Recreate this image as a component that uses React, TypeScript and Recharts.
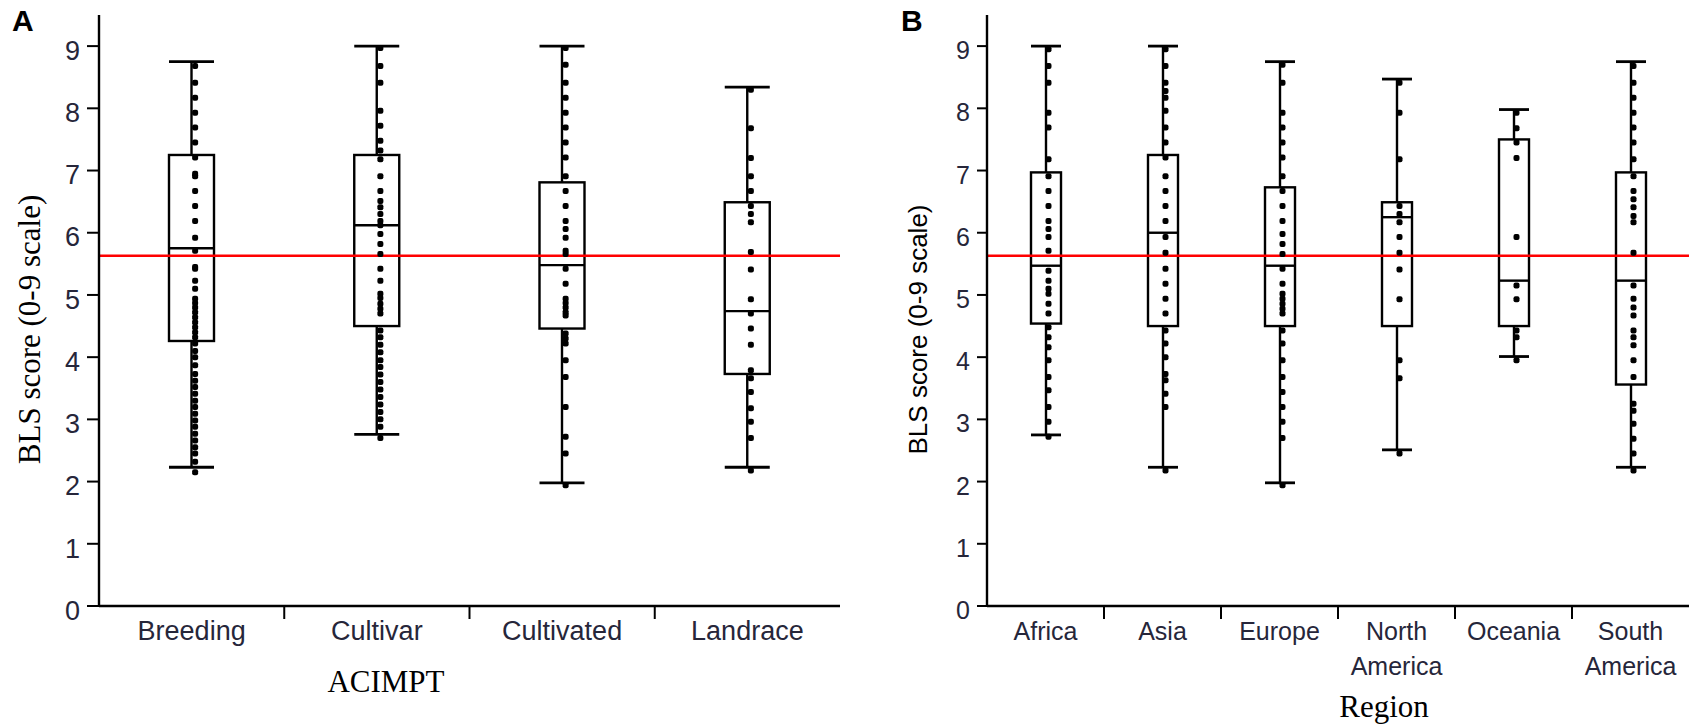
import React from "react"
import { ComposedChart, Bar, Scatter, XAxis, YAxis, ReferenceLine, Label } from "recharts"

const SANS = "'Liberation Sans', Arial, sans-serif"
const SERIF = "'Liberation Serif', 'Times New Roman', serif"
const TEXT = "#26263a"

// overall mean BLS score (red line)
const overallMean = 5.63
const yTicks = [0, 1, 2, 3, 4, 5, 6, 7, 8, 9]

// panel A: accession type (ACIMPT)
const typeNames = ["Breeding", "Cultivar", "Cultivated", "Landrace"]
const typeMin = [2.23, 2.76, 1.98, 2.23]
const typeQ1 = [4.26, 4.5, 4.46, 3.73]
const typeMedian = [5.75, 6.12, 5.48, 4.74]
const typeQ3 = [7.25, 7.25, 6.81, 6.49]
const typeMax = [8.75, 9.0, 9.0, 8.34]

const breedingDots = [8.68, 8.41, 8.17, 7.93, 7.69, 7.45, 7.21, 6.95, 6.91, 6.67, 6.43, 6.19, 5.92, 5.71, 5.45, 5.42, 5.23, 5.1, 4.94, 4.87, 4.8, 4.72, 4.64, 4.56, 4.48, 4.4, 4.32, 4.22, 4.1, 4.0, 3.87, 3.73, 3.62, 3.52, 3.41, 3.3, 3.2, 3.09, 2.98, 2.88, 2.77, 2.66, 2.55, 2.45, 2.32, 2.15]
const cultivarDots = [8.97, 8.68, 8.41, 7.96, 7.72, 7.48, 7.32, 7.18, 6.91, 6.67, 6.51, 6.41, 6.3, 6.19, 6.12, 5.98, 5.82, 5.66, 5.42, 5.23, 5.02, 4.95, 4.86, 4.78, 4.7, 4.43, 4.32, 4.2, 4.08, 3.95, 3.84, 3.72, 3.6, 3.48, 3.36, 3.24, 3.12, 3.0, 2.88, 2.7]
const cultivatedDots = [8.97, 8.7, 8.41, 8.17, 7.93, 7.69, 7.45, 7.21, 6.91, 6.67, 6.43, 6.19, 6.06, 5.92, 5.71, 5.66, 5.42, 5.18, 4.94, 4.87, 4.8, 4.72, 4.67, 4.38, 4.3, 4.22, 3.95, 3.68, 3.2, 2.72, 2.45, 1.94]
const landraceDots = [8.3, 7.68, 7.2, 6.91, 6.67, 6.43, 6.3, 6.17, 5.69, 5.41, 4.93, 4.7, 4.46, 4.2, 3.79, 3.66, 3.44, 3.18, 2.96, 2.7, 2.18]

// panel B: region
const regionNames = ["Africa", "Asia", "Europe", "North America", "Oceania", "South America"]
const regionMin = [2.75, 2.23, 1.98, 2.51, 4.01, 2.23]
const regionQ1 = [4.54, 4.5, 4.5, 4.5, 4.5, 3.56]
const regionMedian = [5.47, 6.0, 5.47, 6.25, 5.23, 5.23]
const regionQ3 = [6.97, 7.25, 6.73, 6.49, 7.5, 6.97]
const regionMax = [9.0, 9.0, 8.75, 8.47, 7.98, 8.75]

const africaDots = [8.95, 8.68, 8.41, 7.93, 7.69, 7.18, 6.91, 6.67, 6.43, 6.19, 6.06, 5.93, 5.71, 5.39, 5.23, 5.1, 5.02, 4.86, 4.7, 4.48, 4.32, 4.16, 3.95, 3.68, 3.47, 3.2, 2.96, 2.72]
const asiaDots = [8.95, 8.68, 8.41, 8.28, 8.17, 7.96, 7.69, 7.45, 7.21, 6.91, 6.67, 6.43, 6.19, 5.93, 5.68, 5.42, 5.18, 4.94, 4.7, 4.43, 4.22, 4.0, 3.73, 3.63, 3.41, 3.2, 2.18]
const europeDots = [8.7, 8.41, 7.93, 7.69, 7.45, 7.21, 6.91, 6.67, 6.43, 6.19, 5.98, 5.82, 5.66, 5.42, 5.18, 5.02, 4.94, 4.86, 4.78, 4.7, 4.43, 4.22, 3.95, 3.68, 3.44, 3.2, 2.96, 2.7, 1.94]
const northAmericaDots = [8.41, 7.93, 7.18, 6.43, 6.3, 6.17, 5.93, 5.68, 5.41, 4.93, 3.95, 3.66, 2.45]
const oceaniaDots = [7.93, 7.68, 7.45, 7.2, 5.93, 5.15, 4.93, 4.43, 4.32, 3.95]
const southAmericaDots = [8.68, 8.41, 8.17, 7.93, 7.69, 7.45, 7.18, 6.91, 6.67, 6.54, 6.41, 6.27, 6.17, 5.68, 5.15, 4.94, 4.8, 4.67, 4.43, 4.32, 4.19, 3.95, 3.68, 3.25, 3.14, 2.93, 2.69, 2.45, 2.18]

function buildRows(
  names: string[],
  mins: number[],
  q1s: number[],
  medians: number[],
  q3s: number[],
  maxs: number[],
  dots: number[][]
) {
  return names.map((name, i) => {
    const row: Record<string, any> = {
      name,
      range: [mins[i], maxs[i]],
      min: mins[i],
      q1: q1s[i],
      median: medians[i],
      q3: q3s[i],
      max: maxs[i],
    }
    dots[i].forEach((v, j) => {
      row[`p${j}`] = v
    })
    return row
  })
}

const typeRows = buildRows(typeNames, typeMin, typeQ1, typeMedian, typeQ3, typeMax, [
  breedingDots,
  cultivarDots,
  cultivatedDots,
  landraceDots,
])
const regionRows = buildRows(regionNames, regionMin, regionQ1, regionMedian, regionQ3, regionMax, [
  africaDots,
  asiaDots,
  europeDots,
  northAmericaDots,
  oceaniaDots,
  southAmericaDots,
])

// box + whiskers drawn inside the [min, max] range bar
function BoxShape(props: any) {
  const { x, y, width, height, payload } = props
  if (x == null || y == null || !payload) return <g />
  const top = Math.min(y, y + height)
  const bottom = Math.max(y, y + height)
  const { min, max, q1, median, q3 } = payload
  const py = (v: number) => bottom - ((v - min) / (max - min)) * (bottom - top)
  const cx = x + width / 2
  return (
    <g stroke="#000" fill="none" strokeWidth={2.4}>
      <line x1={cx} x2={cx} y1={py(max)} y2={py(q3)} />
      <line x1={cx} x2={cx} y1={py(q1)} y2={py(min)} />
      <line x1={x} x2={x + width} y1={py(max)} y2={py(max)} strokeWidth={2.8} />
      <line x1={x} x2={x + width} y1={py(min)} y2={py(min)} strokeWidth={2.8} />
      <rect x={x} y={py(q3)} width={width} height={py(q1) - py(q3)} />
      <line x1={x} x2={x + width} y1={py(median)} y2={py(median)} />
    </g>
  )
}

function dotShape(dx: number) {
  return (props: any) => {
    const { cx, cy } = props
    if (cx == null || cy == null || !Number.isFinite(cx) || !Number.isFinite(cy)) return <g />
    return <rect x={cx + dx - 3} y={cy - 3} width={6} height={6} rx={2} fill="#000" />
  }
}

function CategoryTick(props: any) {
  const { x, y, payload, index, fontSize } = props
  const half = payload && payload.offset ? payload.offset : 0
  const lines = String(payload.value).split(" ")
  return (
    <g>
      {index > 0 && half > 0 && (
        <line x1={x - half} x2={x - half} y1={y} y2={y + 13} stroke="#000" strokeWidth={2} />
      )}
      <text x={x} y={y + 34} textAnchor="middle" fontSize={fontSize} fill={TEXT} fontFamily={SANS}>
        {lines.map((l, i) => (
          <tspan key={i} x={x} dy={i === 0 ? 0 : 35}>
            {l}
          </tspan>
        ))}
      </text>
    </g>
  )
}

function ValueTick(props: any) {
  const { x, y, payload, fontSize } = props
  return (
    <text x={x} y={y + 4 + fontSize * 0.36} textAnchor="end" fontSize={fontSize} fill={TEXT} fontFamily={SANS}>
      {payload.value}
    </text>
  )
}

interface PanelProps {
  rows: Record<string, any>[]
  dots: number[][]
  width: number
  yAxisWidth: number
  tickSize: number
  boxWidth: number
  dotOffset: number
  tickFont: number
  xTitle: string
  xTitleDx: number
  xTitleDy: number
  yTitleFont: string
  yTitleSize: number
  yTitleX: number
}

function BoxPanel(p: PanelProps) {
  const nDots = Math.max(...p.dots.map((d) => d.length))
  const shape = dotShape(p.dotOffset)
  return (
    <ComposedChart
      width={p.width}
      height={725}
      data={p.rows}
      margin={{ top: 15, right: 1, bottom: 0, left: 0 }}
    >
      <XAxis
        dataKey="name"
        height={119}
        interval={0}
        axisLine={{ stroke: "#000", strokeWidth: 2.4 }}
        tickLine={false}
        tickSize={0}
        tickMargin={0}
        tick={<CategoryTick fontSize={p.tickFont} />}
      >
        <Label
          content={(lp: any) => {
            const vb = lp.viewBox || { x: 0, y: 0 }
            return (
              <text x={vb.x + p.xTitleDx} y={vb.y + p.xTitleDy} textAnchor="middle" fontSize={31} fontFamily={SERIF} fill="#000">
                {p.xTitle}
              </text>
            )
          }}
        />
      </XAxis>
      <XAxis
        xAxisId="top"
        orientation="top"
        dataKey="name"
        height={0}
        tick={false}
        tickLine={false}
        axisLine={{ stroke: "#000", strokeWidth: 2.4 }}
      />
      <YAxis
        domain={[0, 9.5]}
        ticks={yTicks}
        width={p.yAxisWidth}
        interval={0}
        allowDataOverflow
        tickSize={p.tickSize}
        tickMargin={7}
        axisLine={{ stroke: "#000", strokeWidth: 2.4 }}
        tickLine={{ stroke: "#000", strokeWidth: 2 }}
        tick={<ValueTick fontSize={p.tickFont} />}
      >
        <Label
          content={(lp: any) => {
            const vb = lp.viewBox || { x: 0, y: 0, height: 0 }
            const cx = vb.x + p.yTitleX
            const cy = vb.y + vb.height / 2 + 19
            return (
              <text
                x={cx}
                y={cy}
                transform={`rotate(-90, ${cx}, ${cy})`}
                textAnchor="middle"
                fontSize={p.yTitleSize}
                fontFamily={p.yTitleFont}
                fill="#000"
              >
                BLS score (0-9 scale)
              </text>
            )
          }}
        />
      </YAxis>
      <YAxis
        yAxisId="right"
        orientation="right"
        width={0}
        domain={[0, 9.5]}
        tick={false}
        tickLine={false}
        axisLine={{ stroke: "#000", strokeWidth: 2.4 }}
      />
      <ReferenceLine y={overallMean} stroke="#ff0000" strokeWidth={2.5} />
      <Bar dataKey="range" barSize={p.boxWidth} shape={<BoxShape />} isAnimationActive={false} />
      {Array.from({ length: nDots }, (_, j) => (
        <Scatter key={j} dataKey={`p${j}`} shape={shape} isAnimationActive={false} />
      ))}
    </ComposedChart>
  )
}

export default function App() {
  return (
    <div style={{ position: "absolute", left: 0, top: 0, width: 1690, height: 725, background: "#fff" }}>
      <div style={{ position: "absolute", left: 0, top: 0 }}>
        <BoxPanel
          rows={typeRows}
          dots={[breedingDots, cultivarDots, cultivatedDots, landraceDots]}
          width={841}
          yAxisWidth={99}
          tickSize={12}
          boxWidth={45}
          dotOffset={3.5}
          tickFont={27}
          xTitle="ACIMPT"
          xTitleDx={287}
          xTitleDy={86}
          yTitleFont={SERIF}
          yTitleSize={31}
          yTitleX={40}
        />
      </div>
      <div style={{ position: "absolute", left: 880, top: 0 }}>
        <BoxPanel
          rows={regionRows}
          dots={[africaDots, asiaDots, europeDots, northAmericaDots, oceaniaDots, southAmericaDots]}
          width={810}
          yAxisWidth={107}
          tickSize={10}
          boxWidth={30}
          dotOffset={3}
          tickFont={25}
          xTitle="Region"
          xTitleDx={397}
          xTitleDy={111}
          yTitleFont={SANS}
          yTitleSize={26}
          yTitleX={47}
        />
      </div>
      <div style={{ position: "absolute", left: 12, top: 4, fontFamily: SANS, fontWeight: "bold", fontSize: 30, lineHeight: "34px" }}>
        A
      </div>
      <div style={{ position: "absolute", left: 901, top: 4, fontFamily: SANS, fontWeight: "bold", fontSize: 30, lineHeight: "34px" }}>
        B
      </div>
    </div>
  )
}
